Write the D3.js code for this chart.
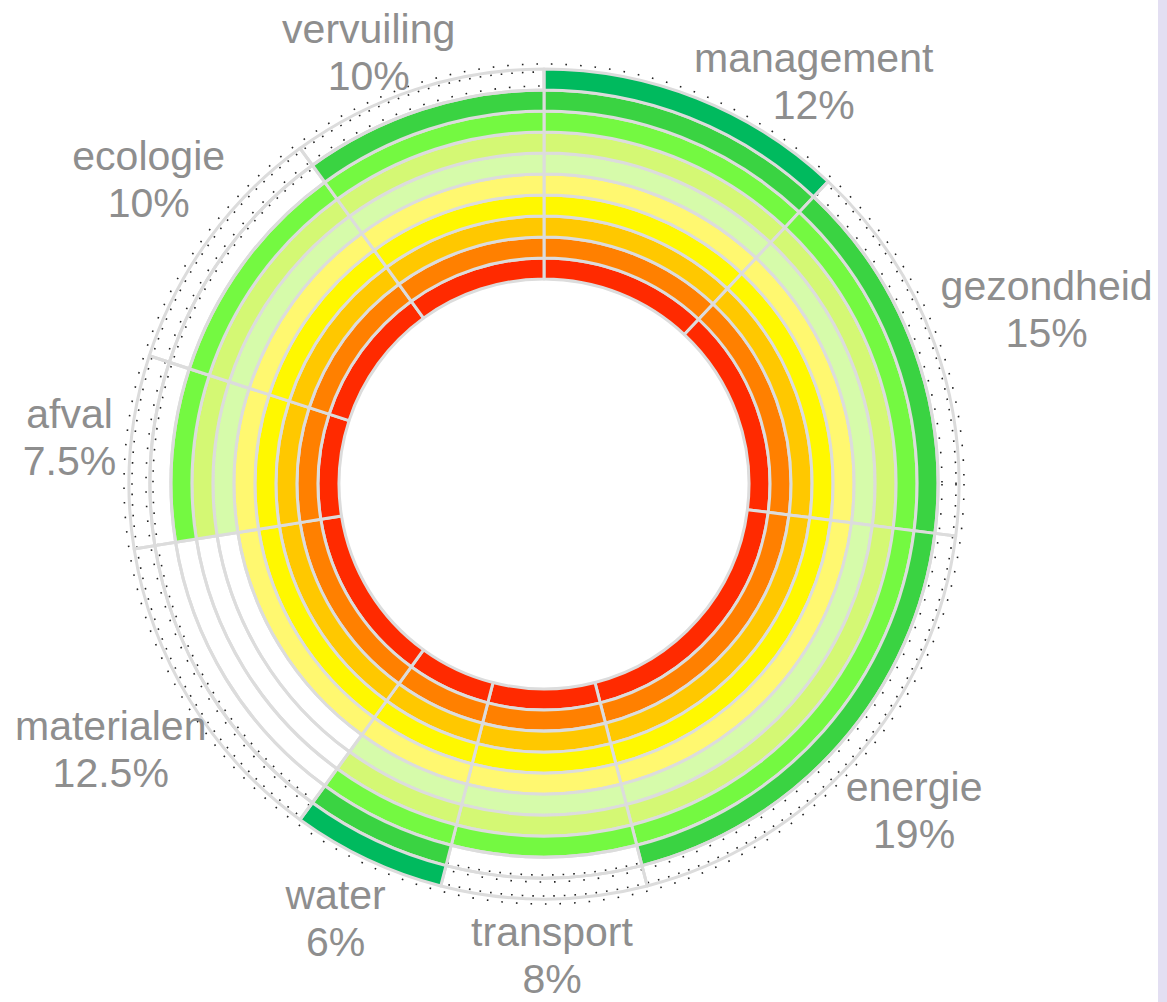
<!DOCTYPE html>
<html>
<head>
	<title>Duurzaamheid ringen</title>
	<script src="https://d3js.org/d3.v7.min.js" charset="utf-8"></script>
	<style>
		body { margin: 0; background: #fff; }
		svg { display: block; }
	</style>
</head>
<body>
	<script>
		// thema's, clockwise from the top
		var themes = ["management", "gezondheid", "energie", "transport", "water",
			"materialen", "afval", "ecologie", "vervuiling"];
		var weights = [12, 15, 19, 8, 6, 12.5, 7.5, 10, 10];   // share of the circle, %
		var scores = [10, 9, 9, 8, 10, 5, 8, 8, 9];            // filled rings per theme
		var levelColors = ["#ff2a00", "#ff8000", "#ffc800", "#fff800", "#fff870",
			"#d6fbaa", "#d4f874", "#74f941", "#3ad342", "#00ba5e"];

		var svgWidth = 1167,
			svgHeight = 1002,
			cx = 544,
			cy = 484,
			innerR = 205,
			outerR = 415;

		var svg = d3.select("body")
			.append("svg")
			.attr("width", svgWidth)
			.attr("height", svgHeight);

		// lavender strip on the right edge
		svg.append("rect")
			.attr("x", 1158)
			.attr("y", 0)
			.attr("width", svgWidth - 1158)
			.attr("height", svgHeight)
			.attr("fill", "#e3dff2");

		var g = svg.append("g")
			.attr("transform", "translate(" + cx + "," + cy + ")");

		var data = themes.map(function(t, i) {
			return {theme: t, weight: weights[i], score: scores[i]};
		});

		var pie = d3.pie()
			.sort(null)
			.value(function(d) { return d.weight; });
		var slices = pie(data);

		var ring = d3.scaleLinear()
			.domain([0, levelColors.length])
			.range([innerR, outerR]);

		// faint dotted traces round the outer rings
		[391, 398, 412, 420].forEach(function(r, i) {
			g.append("circle")
				.attr("r", r)
				.attr("fill", "none")
				.attr("stroke", "#222")
				.attr("stroke-width", 1.6)
				.attr("stroke-dasharray", i % 2 ? "1.6,13" : "1.6,9");
		});

		var cells = [];
		slices.forEach(function(s) {
			levelColors.forEach(function(c, lvl) {
				cells.push({
					startAngle: s.startAngle,
					endAngle: s.endAngle,
					lvl: lvl,
					filled: lvl < s.data.score
				});
			});
		});

		var arc = d3.arc()
			.innerRadius(function(d) { return ring(d.lvl); })
			.outerRadius(function(d) { return ring(d.lvl + 1); });

		g.append("g")
			.selectAll("path")
			.data(cells)
			.enter().append("path")
			.attr("d", arc)
			.attr("fill", function(d) { return d.filled ? levelColors[d.lvl] : "none"; })
			.attr("stroke", "#dcdcdc")
			.attr("stroke-width", 3)
			.attr("stroke-linejoin", "round");

		// labels sit near the middle angle of each theme, nudged by hand
		var labelR = 480;
		var nudge = {
			management: [93, 58], gezondheid: [51, 3], energie: [10, 24],
			transport: [8, 6], water: [-4, 15], materialen: [-24, 29],
			afval: [4, 6], ecologie: [-7, -8], vervuiling: [-27, 40]
		};

		var labels = g.append("g")
			.selectAll("g")
			.data(slices)
			.enter().append("g")
			.attr("transform", function(d) {
				var a = (d.startAngle + d.endAngle) / 2,
					n = nudge[d.data.theme];
				var x = labelR * Math.sin(a) + n[0],
					y = -labelR * Math.cos(a) + n[1];
				return "translate(" + x + "," + y + ")";
			})
			.attr("font-family", "'Liberation Sans', Arial, sans-serif")
			.attr("font-size", 41)
			.attr("fill", "#8e8e8e")
			.attr("text-anchor", "middle");

		labels.append("text")
			.attr("y", -24)
			.text(function(d) { return d.data.theme; });

		labels.append("text")
			.attr("y", 23)
			.text(function(d) { return d.data.weight + "%"; });
	</script>
</body>
</html>
